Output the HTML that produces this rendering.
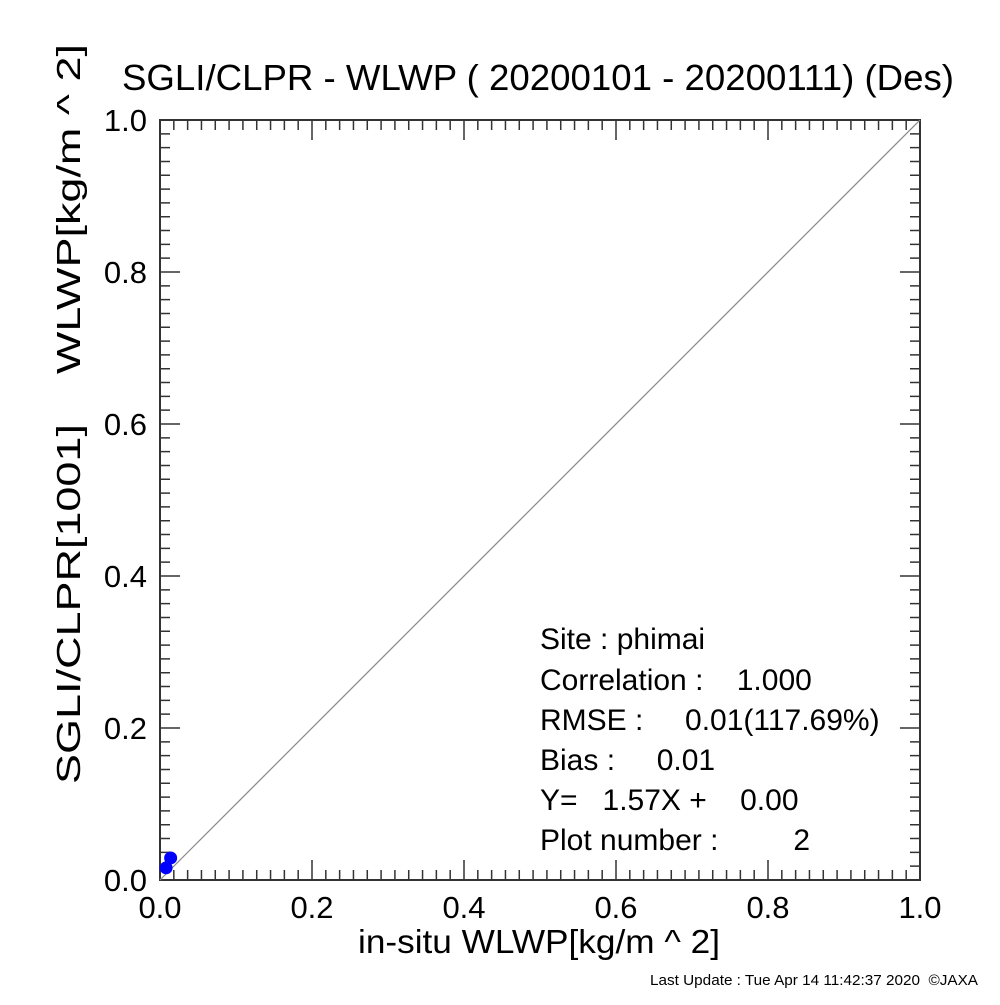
<!DOCTYPE html>
<html><head><meta charset="utf-8"><style>
body{margin:0;background:#fff}
svg text{font-family:"Liberation Sans",Helvetica,Arial,sans-serif;fill:#000;white-space:pre}
</style></head><body>
<svg id="chart" width="1000" height="1000" xmlns="http://www.w3.org/2000/svg">
<rect x="0" y="0" width="1000" height="1000" fill="#fff"/>
<text x="538" y="90" font-size="36" text-anchor="middle" textLength="832" lengthAdjust="spacingAndGlyphs">SGLI/CLPR - WLWP ( 20200101 - 20200111) (Des)</text>
<g id="axes"></g>
<line x1="160" y1="880" x2="920" y2="120" stroke="#888" stroke-width="1.2"/>
<g id="points"></g>
<text x="539" y="953" font-size="33" text-anchor="middle" textLength="362" lengthAdjust="spacingAndGlyphs">in-situ WLWP[kg/m ^ 2]</text>
<text transform="translate(80,414) rotate(-90)" font-size="33" text-anchor="middle" textLength="740" lengthAdjust="spacingAndGlyphs">SGLI/CLPR[1001]    WLWP[kg/m ^ 2]</text>
<g font-size="30">
<text x="540" y="649">Site : phimai</text>
<text x="540" y="690">Correlation :    1.000</text>
<text x="540" y="730">RMSE :     0.01(117.69%)</text>
<text x="540" y="770">Bias :     0.01</text>
<text x="540" y="810">Y=   1.57X +    0.00</text>
<text x="540" y="850">Plot number :         2</text>
</g>
<text x="978" y="985" font-size="15" text-anchor="end" textLength="328" lengthAdjust="spacingAndGlyphs">Last Update : Tue Apr 14 11:42:37 2020  ©JAXA</text>
</svg>
<script>
const xTicks=[0,0.2,0.4,0.6,0.8,1.0];
const tickLabels=["0.0","0.2","0.4","0.6","0.8","1.0"];
const ptX=[0.014,0.008];
const ptY=[0.029,0.016];
const L=160,R=920,T=120,B=880;
const sx=v=>L+(R-L)*v, sy=v=>B-(B-T)*v;
const NS="http://www.w3.org/2000/svg";
const ax=document.getElementById('axes');
function mk(t,a,p){const e=document.createElementNS(NS,t);for(const k in a)e.setAttribute(k,a[k]);(p||ax).appendChild(e);return e;}
const fr=mk('rect',{x:L,y:T,width:R-L,height:B-T,fill:'none',stroke:'#333','stroke-width':2});


let d='';
for(let i=0;i<xTicks.length;i++){
  const v=xTicks[i];
  const x=sx(v),y=sy(v);
  d+=`M${x},${B}v-20M${x},${T}v20M${L},${y}h20M${R},${y}h-20`;
  if(i<xTicks.length-1){
    const step=(xTicks[i+1]-v)/11;
    for(let j=1;j<11;j++){const mx=sx(v+j*step),my=sy(v+j*step);
      d+=`M${mx},${B}v-10M${mx},${T}v10M${L},${my}h10M${R},${my}h-10`;}
  }
  const xl=mk('text',{x:x,y:918,'font-size':31,'text-anchor':'middle'});
  
  
  xl.textContent=tickLabels[i];
  const yl=mk('text',{x:147,y:y+11,'font-size':31,'text-anchor':'end'});
  
  
  yl.textContent=tickLabels[i];
}
const tp=mk('path',{d:d,stroke:'#333','stroke-width':1.5,fill:'none'});


const pg=document.getElementById('points');
for(let i=0;i<ptX.length;i++){
  const c=mk('circle',{cx:sx(ptX[i]),cy:sy(ptY[i]),r:6.5,fill:'#0000ff'},pg);
  
  
}
</script>
</body></html>
